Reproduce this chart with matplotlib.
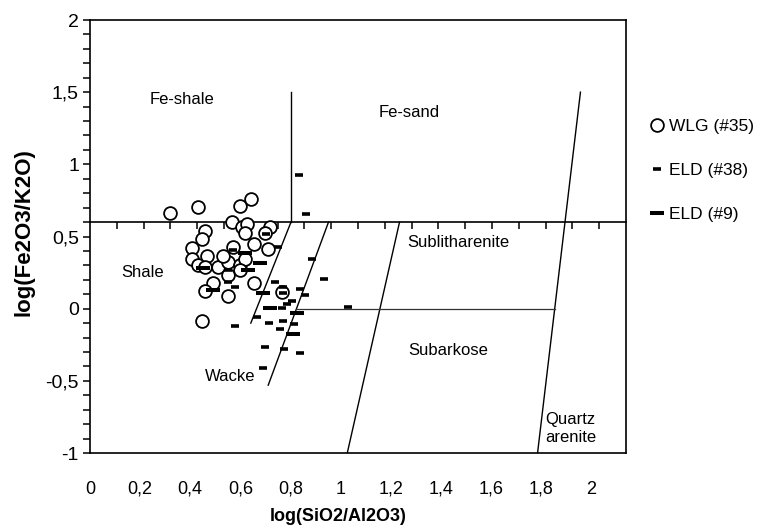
import matplotlib
matplotlib.use('Agg')
import matplotlib.pyplot as plt
from matplotlib.lines import Line2D
import numpy as np

plt.rcParams['font.family'] = ['Liberation Sans', 'DejaVu Sans']

# ---------------- data ----------------
wlg_x = [0.299, 0.404, 0.560, 0.600, 0.529, 0.568, 0.585, 0.578, 0.672, 0.653,
         0.429, 0.417, 0.382, 0.382, 0.435, 0.404, 0.429, 0.479, 0.516, 0.535,
         0.560, 0.578, 0.613, 0.665, 0.496, 0.516, 0.560, 0.460, 0.429, 0.516,
         0.613, 0.715, 0.417]
wlg_y = [0.660, 0.706, 0.713, 0.757, 0.598, 0.568, 0.584, 0.522, 0.568, 0.522,
         0.538, 0.482, 0.418, 0.344, 0.365, 0.302, 0.290, 0.290, 0.321, 0.429,
         0.302, 0.344, 0.446, 0.413, 0.365, 0.233, 0.267, 0.180, 0.124, 0.087,
         0.175, 0.117, -0.084]

eld38_x = [0.780, 0.805, 0.656, 0.703, 0.535, 0.830, 0.516, 0.873, 0.516, 0.541,
           0.690, 0.721, 0.784, 0.802, 0.721, 0.753, 0.734, 0.715, 0.624, 0.962,
           0.541, 0.668, 0.721, 0.761, 0.709, 0.653, 0.724, 0.784, 0.647]
eld38_y = [0.926, 0.656, 0.515, 0.429, 0.406, 0.342, 0.267, 0.203, 0.187, 0.152,
           0.182, 0.152, 0.134, 0.094, 0.106, 0.055, 0.030, 0.002, -0.056, 0.009,
           -0.118, -0.102, -0.086, -0.107, -0.141, -0.268, -0.282, -0.306, -0.414]

eld9_x = [0.578, 0.634, 0.423, 0.591, 0.460, 0.647, 0.672, 0.771, 0.759]
eld9_y = [0.387, 0.318, 0.279, 0.267, 0.129, 0.106, 0.006, -0.033, -0.176]

# classification field boundaries (Herron diagram)
feline_x = [0.75, 0.75]
feline_y = [0.6, 1.5]
shale_wacke_x = [0.60, 0.75]
shale_wacke_y = [-0.10, 0.60]
wacke_x = [0.665, 0.89]
wacke_y = [-0.53, 0.60]
subarkose_x = [0.96, 1.155]
subarkose_y = [-1.0, 0.60]
quartz_x = [1.67, 1.83]
quartz_y = [-1.0, 1.5]
split_x = [0.77, 1.734]
split_y = [0.0, 0.0]

field_names = ['Fe-shale', 'Fe-sand', 'Shale', 'Sublitharenite', 'Subarkose', 'Wacke', 'Quartz\narenite']
field_x = [0.343, 1.19, 0.198, 1.373, 1.336, 0.522, 1.698]
field_y = [1.45, 1.36, 0.254, 0.46, -0.287, -0.467, -0.83]

xtick_values = [0, 0.2, 0.4, 0.6, 0.8, 1.0, 1.2, 1.4, 1.6, 1.8, 2.0]
xtick_labels = ['0', '0,2', '0,4', '0,6', '0,8', '1', '1,2', '1,4', '1,6', '1,8', '2']
ytick_values = [-1, -0.5, 0, 0.5, 1, 1.5, 2]
ytick_labels = ['-1', '-0,5', '0', '0,5', '1', '1,5', '2']

# ---------------- figure ----------------
W, H = 759, 528
fig = plt.figure(figsize=(W / 100, H / 100), dpi=100)
L, B, Wd, Ht = 90 / W, 75 / H, 536 / W, 433 / H
ax = fig.add_axes([L, B, Wd, Ht])
ax.set_xlim(0, 2)
ax.set_ylim(-1, 2)

for s in ax.spines.values():
    s.set_linewidth(1.2)
    s.set_color('black')

# y axis ticks
ax.set_yticks(ytick_values)
ax.set_yticklabels(ytick_labels, fontsize=14)
ax.set_yticks(np.arange(-1, 2.001, 0.1), minor=True)
ax.tick_params(axis='y', which='both', direction='out', length=5, width=1.1, pad=3, left=True)

# x tick labels (placed under bottom spine, no tick marks)
label_scale = 0.935
ax.set_xticks([v * label_scale for v in xtick_values])
ax.set_xticklabels(xtick_labels, fontsize=13)
ax.tick_params(axis='x', which='both', length=0, pad=20)

# secondary axis acting as x axis crossing at y = 0.6
ypos = (0.6 - (-1)) / 3.0
ax2 = fig.add_axes([L, B + ypos * Ht, Wd, 1e-6])
ax2.set_xlim(0, 2)
ax2.patch.set_visible(False)
for k in ['top', 'left', 'right']:
    ax2.spines[k].set_visible(False)
ax2.spines['bottom'].set_linewidth(1.2)
ax2.set_yticks([])
ax2.set_xticks(np.arange(0.1, 2.0, 0.1))
ax2.tick_params(axis='x', direction='out', length=5, width=1.1, labelbottom=False)
ax2.set_zorder(0)
ax.set_zorder(1)
ax.patch.set_visible(False)

# boundaries
lk = dict(color='black', lw=1.0, zorder=2)
ax.plot(feline_x, feline_y, **lk)
ax.plot(shale_wacke_x, shale_wacke_y, **lk)
ax.plot(wacke_x, wacke_y, **lk)
ax.plot(subarkose_x, subarkose_y, **lk)
ax.plot(quartz_x, quartz_y, **lk)
ax.plot(split_x, split_y, color='#333333', lw=0.9, zorder=2)

for name, x, y in zip(field_names, field_x, field_y):
    ha = 'left' if name.startswith('Quartz') else 'center'
    ax.text(x, y, name, fontsize=12, ha=ha, va='center', zorder=3)

# data
ax.plot(wlg_x, wlg_y, linestyle='none', marker='o', markersize=9.2,
        markerfacecolor='white', markeredgecolor='black', markeredgewidth=1.3, zorder=4)
ax.plot(eld38_x, eld38_y, linestyle='none', marker='_', markersize=6,
        markeredgewidth=2.6, color='black', zorder=5)
ax.plot(eld9_x, eld9_y, linestyle='none', marker='_', markersize=9.5,
        markeredgewidth=2.9, color='black', zorder=5)

ax.set_xlabel('log(SiO2/Al2O3)', fontsize=13, fontweight='bold')
ax.xaxis.set_label_coords((338 - 90) / 536, -(508 - 453) / 433)
ax.set_ylabel('log(Fe2O3/K2O)', fontsize=16, fontweight='bold')
ax.yaxis.set_label_coords(-(90 - 35) / 536, (453 - 232) / 433)

handles = [
    Line2D([], [], linestyle='none', marker='o', markersize=9.2, markerfacecolor='white',
           markeredgecolor='black', markeredgewidth=1.3, label='WLG (#35)'),
    Line2D([], [], linestyle='none', marker='_', markersize=6, markeredgewidth=2.6,
           color='black', label='ELD (#38)'),
    Line2D([], [], linestyle='none', marker='_', markersize=9.5, markeredgewidth=2.9,
           color='black', label='ELD (#9)'),
]
fig.legend(handles=handles, loc='upper left', bbox_to_anchor=(649 / W, 1 - 119 / H),
           frameon=False, fontsize=12.5, handlelength=0.9, handletextpad=0.25,
           labelspacing=1.65, borderpad=0, borderaxespad=0)

fig.savefig('out.png', dpi=100)
